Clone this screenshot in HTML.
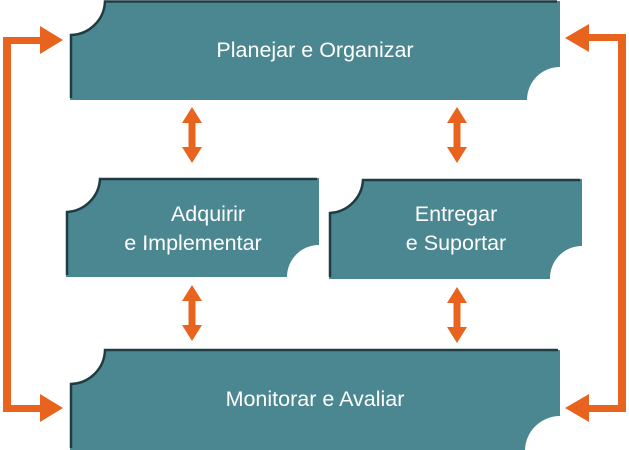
<!DOCTYPE html>
<html><head><meta charset="utf-8"><style>
html,body{margin:0;padding:0;background:#fff;}
svg{display:block;}
text{font-family:"Liberation Sans",sans-serif;fill:#fff;font-size:21.5px;text-anchor:middle;}
</style></head><body>
<svg width="629" height="450" viewBox="0 0 629 450" xmlns="http://www.w3.org/2000/svg">
<defs>
<g id="dbl"><path d="M-3.5,-14 L-3.5,14 L3.5,14 L3.5,-14 Z"/><path d="M0,-28 L10,-12 L-10,-12 Z"/><path d="M0,28 L10,12 L-10,12 Z"/></g>
</defs>
<g fill="#4b8790">
<path d="M70,35 A35,35 0 0 0 105,1 L560,1 L560,67 A33,33 0 0 0 527,100 L70,100 Z"/>
<path d="M66,212 A35,35 0 0 0 100,178 L319,178 L319,245 A32,32 0 0 0 287,277 L66,277 Z"/>
<path d="M329,213 A35,35 0 0 0 363,179 L582,179 L582,246 A32,32 0 0 0 550,279 L329,279 Z"/>
<path d="M70,384 A35,35 0 0 0 105,350 L560,350 L560,416 A35,35 0 0 0 525,450 L70,450 Z"/>
</g>
<g fill="none" stroke="#1f3c42" stroke-width="2.5">
<path d="M71,98 L71,35 A35,35 0 0 0 105,1.5 L557,1.5"/>
<path d="M67,275 L67,212 A35,35 0 0 0 100,179 L317,179"/>
<path d="M330,277 L330,213 A35,35 0 0 0 363,180 L580,180"/>
<path d="M71,448 L71,384 A35,35 0 0 0 105,350 L558,350"/>
</g>
<text x="315" y="57">Planejar e Organizar</text>
<text x="208" y="221">Adquirir</text>
<text x="193" y="250">e Implementar</text>
<text x="456" y="221">Entregar</text>
<text x="456" y="250">e Suportar</text>
<text x="315" y="406">Monitorar e Avaliar</text>
<g fill="#e8641e">
<use href="#dbl" x="192" y="135"/>
<use href="#dbl" x="457" y="135"/>
<use href="#dbl" x="192" y="313"/>
<use href="#dbl" x="457" y="315"/>
<rect x="3" y="37" width="8" height="375"/>
<rect x="3" y="37" width="40" height="7"/>
<rect x="3" y="405" width="40" height="7"/>
<path d="M63,40 L40,26 L40,54 Z"/>
<path d="M63,408 L40,394 L40,422 Z"/>
<rect x="618" y="34" width="8" height="378"/>
<rect x="586" y="34" width="40" height="7"/>
<rect x="586" y="405" width="40" height="7"/>
<path d="M565,38 L589,24 L589,52 Z"/>
<path d="M565,408 L589,394 L589,422 Z"/>
</g>
</svg>
</body></html>
